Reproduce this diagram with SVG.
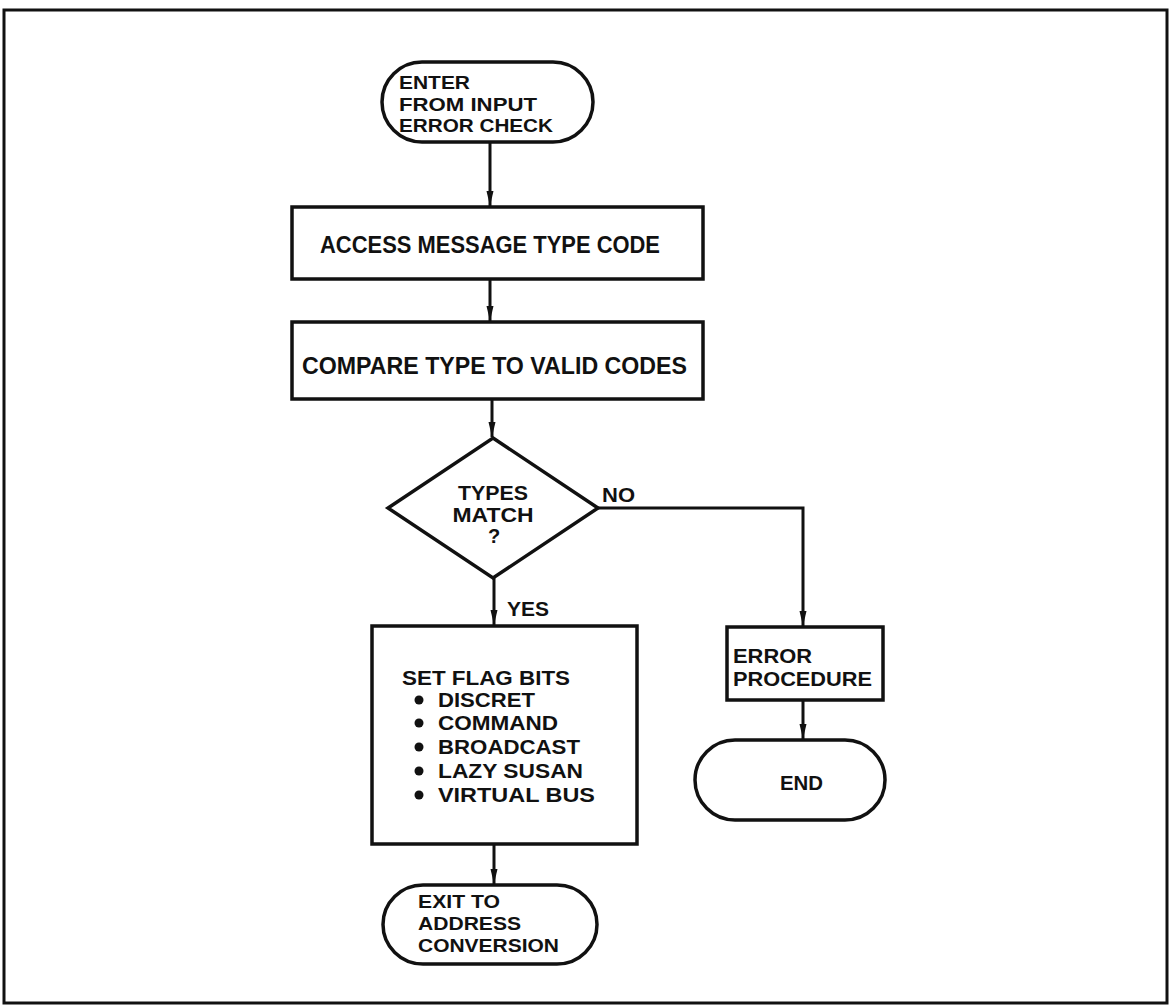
<svg xmlns="http://www.w3.org/2000/svg" width="1170" height="1008" viewBox="0 0 1170 1008">
<style>
.shape{fill:#fff;stroke:#111;stroke-width:3.5}
.frame{fill:#fff;stroke:#111;stroke-width:3}
.ln{fill:none;stroke:#111;stroke-width:3}
text{font-family:"Liberation Sans",Arial,sans-serif;font-weight:bold;fill:#111;font-size:20px}
.big{font-size:23px}
.term{font-size:19px}
.mid{text-anchor:middle}
</style>
<defs>
<marker id="arr" markerUnits="userSpaceOnUse" markerWidth="16" markerHeight="10" refX="15" refY="5" orient="auto">
<path d="M0,1.5 L15,5 L0,8.5 z" fill="#111"/>
</marker>
</defs>
<rect class="frame" x="4" y="10" width="1163" height="993"/>
<g id="connectors">
<path class="ln" d="M490,142 V206" marker-end="url(#arr)"/>
<path class="ln" d="M490,279 V321" marker-end="url(#arr)"/>
<path class="ln" d="M492,399 V437" marker-end="url(#arr)"/>
<path class="ln" d="M494,578 V625" marker-end="url(#arr)"/>
<path class="ln" d="M598,508 H803 V626" marker-end="url(#arr)"/>
<path class="ln" d="M803,700 V739" marker-end="url(#arr)"/>
<path class="ln" d="M494,844 V884" marker-end="url(#arr)"/>
<text x="602" y="502" textLength="33" lengthAdjust="spacingAndGlyphs">NO</text>
<text x="507" y="616" textLength="42" lengthAdjust="spacingAndGlyphs">YES</text>
</g>
<g id="start">
<rect class="shape" x="382" y="62" width="211" height="80" rx="40" ry="40"/>
<text class="term" x="399" y="89" textLength="71" lengthAdjust="spacingAndGlyphs">ENTER</text>
<text class="term" x="399" y="111" textLength="138" lengthAdjust="spacingAndGlyphs">FROM INPUT</text>
<text class="term" x="399" y="132" textLength="154" lengthAdjust="spacingAndGlyphs">ERROR CHECK</text>
</g>
<g id="access">
<rect class="shape" x="292" y="207" width="411" height="72"/>
<text class="big" x="320" y="253" textLength="340" lengthAdjust="spacingAndGlyphs">ACCESS MESSAGE TYPE  CODE</text>
</g>
<g id="compare">
<rect class="shape" x="292" y="322" width="411" height="77"/>
<text class="big" x="302" y="374" textLength="385" lengthAdjust="spacingAndGlyphs">COMPARE TYPE TO VALID CODES</text>
</g>
<g id="decision">
<polygon class="shape" points="493,438 598,508 493,578 388,508"/>
<text class="mid" x="493" y="500" textLength="70" lengthAdjust="spacingAndGlyphs">TYPES</text>
<text class="mid" x="493" y="522" textLength="81" lengthAdjust="spacingAndGlyphs">MATCH</text>
<text class="mid" x="494" y="543">?</text>
</g>
<g id="setflags">
<rect class="shape" x="372" y="626" width="265" height="218"/>
<text x="402" y="685" textLength="168" lengthAdjust="spacingAndGlyphs">SET FLAG BITS</text>
<circle cx="419" cy="700" r="4.5" fill="#111"/>
<text x="438" y="707" textLength="97" lengthAdjust="spacingAndGlyphs">DISCRET</text>
<circle cx="419" cy="723" r="4.5" fill="#111"/>
<text x="438" y="730" textLength="120" lengthAdjust="spacingAndGlyphs">COMMAND</text>
<circle cx="419" cy="747" r="4.5" fill="#111"/>
<text x="438" y="754" textLength="142" lengthAdjust="spacingAndGlyphs">BROADCAST</text>
<circle cx="419" cy="771" r="4.5" fill="#111"/>
<text x="438" y="778" textLength="145" lengthAdjust="spacingAndGlyphs">LAZY SUSAN</text>
<circle cx="419" cy="795" r="4.5" fill="#111"/>
<text x="438" y="802" textLength="157" lengthAdjust="spacingAndGlyphs">VIRTUAL BUS</text>
</g>
<g id="error">
<rect class="shape" x="727" y="627" width="156" height="73"/>
<text x="733" y="663" textLength="79" lengthAdjust="spacingAndGlyphs">ERROR</text>
<text x="733" y="686" textLength="139" lengthAdjust="spacingAndGlyphs">PROCEDURE</text>
</g>
<g id="end">
<rect class="shape" x="695" y="740" width="190" height="80" rx="40" ry="40"/>
<text x="780" y="790" textLength="43" lengthAdjust="spacingAndGlyphs">END</text>
</g>
<g id="exit">
<rect class="shape" x="383" y="885" width="214" height="79" rx="40" ry="40"/>
<text class="term" x="418" y="908" textLength="82" lengthAdjust="spacingAndGlyphs">EXIT TO</text>
<text class="term" x="418" y="930" textLength="103" lengthAdjust="spacingAndGlyphs">ADDRESS</text>
<text class="term" x="418" y="952" textLength="141" lengthAdjust="spacingAndGlyphs">CONVERSION</text>
</g>
</svg>
